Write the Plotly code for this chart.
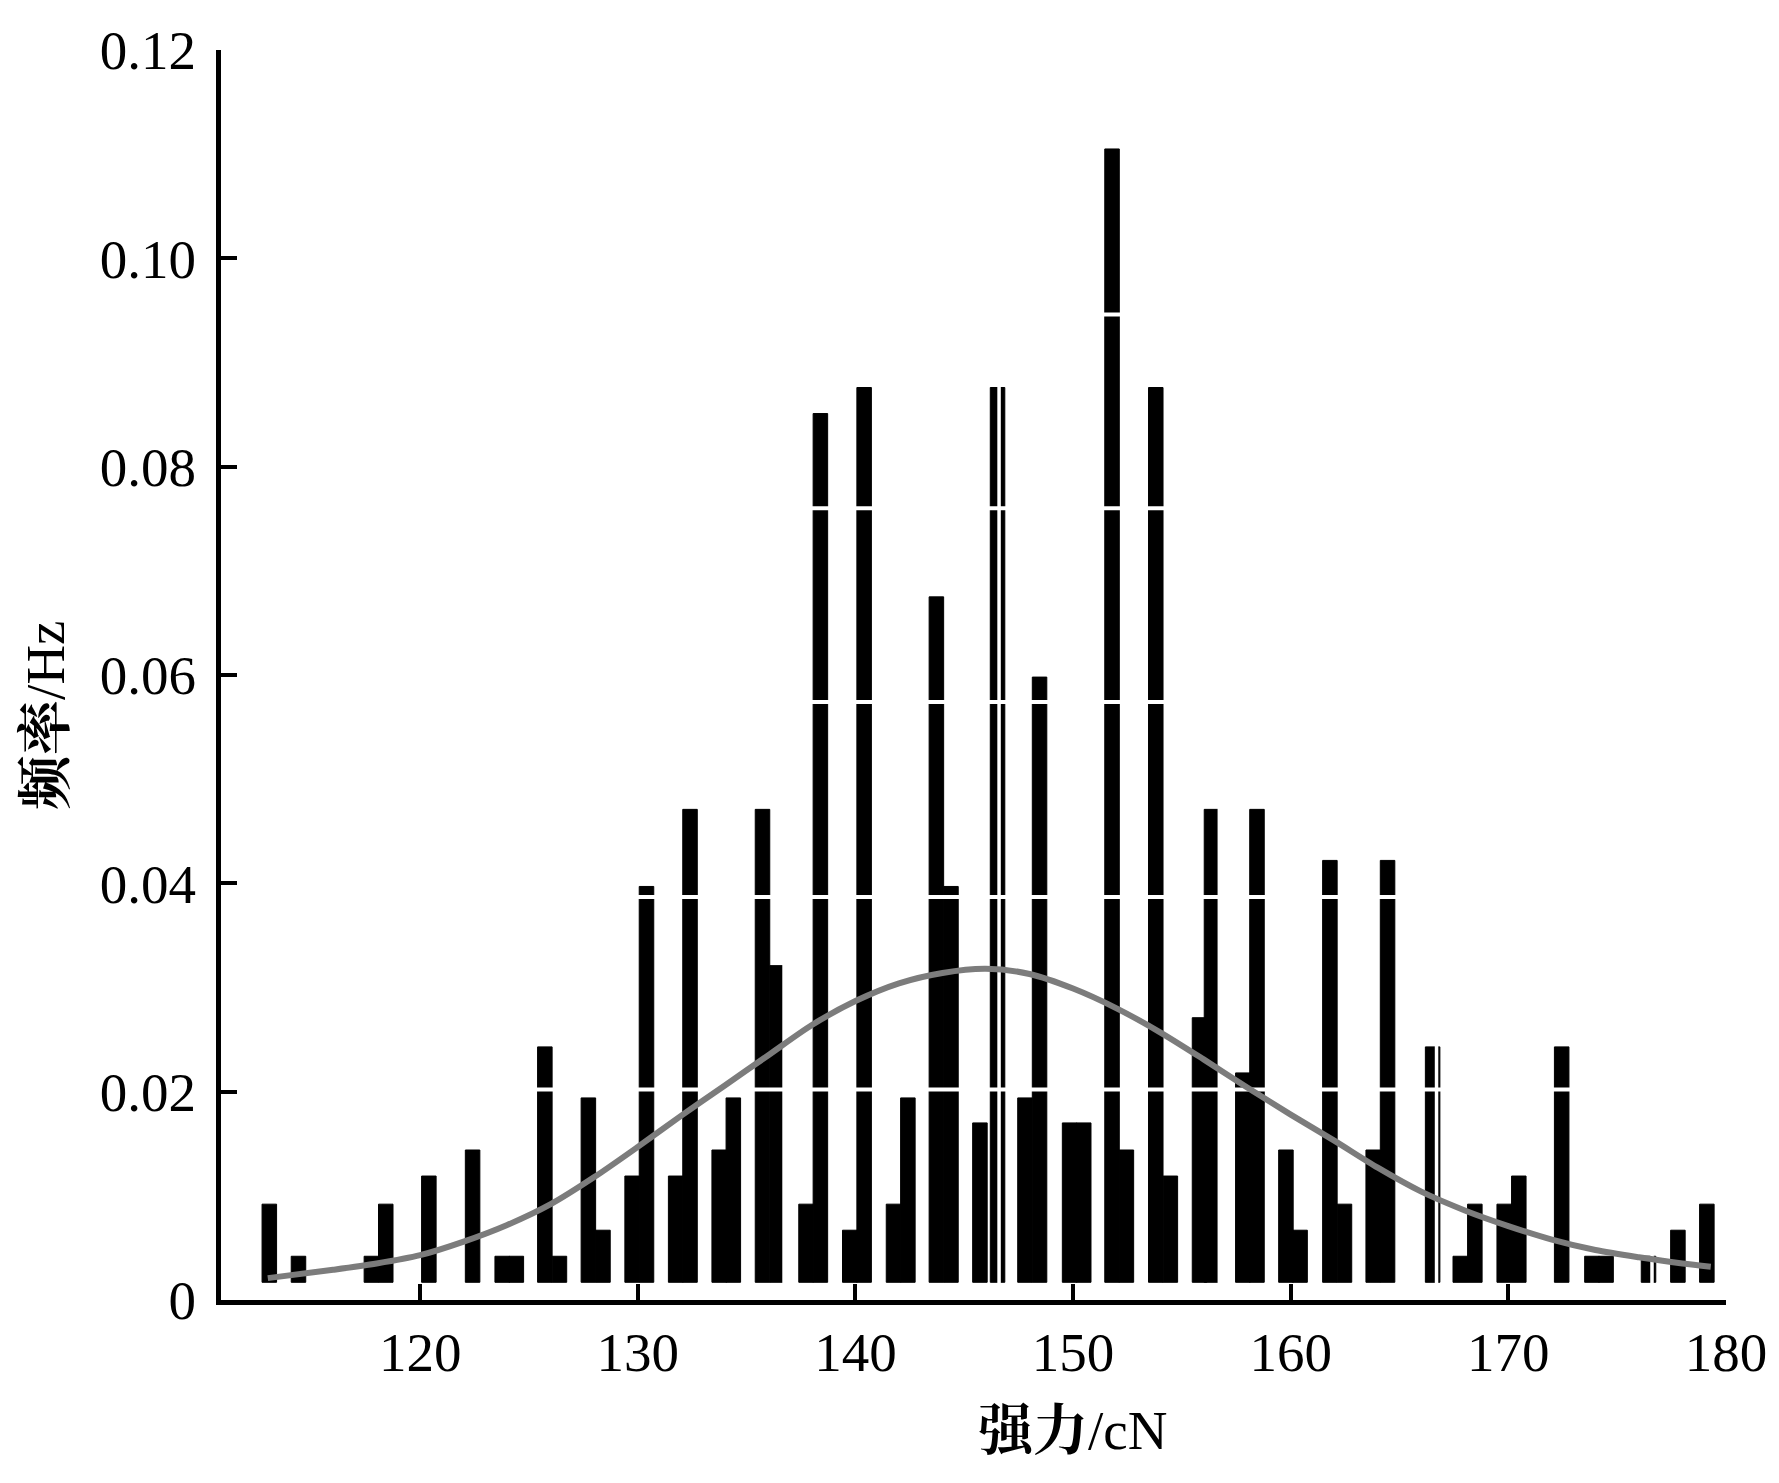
import plotly.graph_objects as go

# histogram: bin centre (cN) and top of each bar (frequency)
strength_cN = [
    113.07, 114.41, 117.76, 118.42, 120.40, 122.41, 123.77, 124.42, 125.73, 126.40,
    127.73, 128.40, 129.74, 130.40, 131.74, 132.40, 133.74, 134.39, 135.73, 136.40,
    137.73, 138.39, 139.74, 140.40, 141.75, 142.41, 143.72, 144.39, 145.72, 146.53,
    147.79, 148.46, 149.84, 150.49, 151.79, 152.45, 153.80, 154.47, 155.81, 156.36,
    157.80, 158.45, 159.78, 160.43, 161.80, 162.47, 163.79, 164.45, 166.52, 167.79,
    168.46, 169.81, 170.48, 172.45, 173.84, 174.49, 176.44, 177.79, 179.12,
]
freq_top = [
    0.0092, 0.0042, 0.0042, 0.0092, 0.0119, 0.0144, 0.0042, 0.0042, 0.0243, 0.0042,
    0.0194, 0.0067, 0.0119, 0.0397, 0.0119, 0.0471, 0.0144, 0.0194, 0.0471, 0.0321,
    0.0092, 0.0851, 0.0067, 0.0876, 0.0092, 0.0194, 0.0675, 0.0397, 0.0170, 0.0876,
    0.0194, 0.0598, 0.0170, 0.0170, 0.1105, 0.0144, 0.0876, 0.0119, 0.0271, 0.0471,
    0.0218, 0.0471, 0.0144, 0.0067, 0.0422, 0.0092, 0.0144, 0.0422, 0.0243, 0.0042,
    0.0092, 0.0092, 0.0119, 0.0243, 0.0042, 0.0042, 0.0042, 0.0067, 0.0092,
]
BAR_BASE = 0.0017   # bars stand on this level, a little above the axis
BAR_WIDTH = 0.667

# fitted distribution curve, read point by point
fit_x = [113.0, 116.0, 118.0, 120.0, 122.0, 124.0, 126.0, 128.0, 130.0, 132.0,
         134.0, 136.0, 138.0, 140.0, 142.0, 144.0, 146.0, 148.0, 150.0, 152.0,
         154.0, 156.0, 158.0, 160.0, 162.0, 164.0, 166.0, 168.0, 170.0, 172.0,
         174.0, 176.0, 178.0, 179.3]
fit_y = [0.0021, 0.0029, 0.0035, 0.0043, 0.0056, 0.0072, 0.0092, 0.0118, 0.0147, 0.0177,
         0.0206, 0.0235, 0.0264, 0.0287, 0.0304, 0.0314, 0.0318, 0.0313, 0.0299, 0.0280,
         0.0257, 0.0231, 0.0204, 0.0178, 0.0153, 0.0127, 0.0104, 0.0086, 0.0071, 0.0058,
         0.0048, 0.0041, 0.0035, 0.0032]

# thin white lines that cut through the bars in the original figure
cut_y = [0.0202, 0.0387, 0.0574, 0.0760, 0.0946]
cut_x = [136.72, 146.6, 156.72, 166.7, 176.6]

x_ticks = [120, 130, 140, 150, 160, 170, 180]
y_ticks = [0, 0.02, 0.04, 0.06, 0.08, 0.10, 0.12]
y_tick_text = ["0", "0.02", "0.04", "0.06", "0.08", "0.10", "0.12"]

X_RANGE = [110.85, 180]
Y_RANGE = [0, 0.12]

LATIN = "Liberation Serif"
MIXED = "Liberation Serif, Noto Serif CJK SC, Noto Sans CJK SC"

fig = go.Figure()

# a thin black outline closes the hairline seams between neighbouring bins
fig.add_trace(
    go.Bar(
        x=strength_cN,
        y=[t - BAR_BASE for t in freq_top],
        base=BAR_BASE,
        width=BAR_WIDTH,
        marker={"color": "#000000", "line": {"width": 1, "color": "#000000"}},
        hoverinfo="skip",
    )
)

hx, hy = [], []
for v in cut_y:
    hx += [X_RANGE[0], X_RANGE[1], None]
    hy += [v, v, None]
fig.add_trace(
    go.Scatter(x=hx, y=hy, mode="lines", line={"color": "#ffffff", "width": 4}, hoverinfo="skip")
)

vx, vy = [], []
for v in cut_x:
    vx += [v, v, None]
    vy += [Y_RANGE[0], Y_RANGE[1], None]
fig.add_trace(
    go.Scatter(x=vx, y=vy, mode="lines", line={"color": "#ffffff", "width": 3.5}, hoverinfo="skip")
)

fig.add_trace(
    go.Scatter(
        x=fit_x,
        y=fit_y,
        mode="lines",
        line={"color": "#7c7c7c", "width": 6, "shape": "spline", "smoothing": 0.8},
        hoverinfo="skip",
    )
)

axis_style = dict(
    showgrid=False,
    zeroline=False,
    showline=True,
    linewidth=5,
    linecolor="#000000",
    ticks="inside",
    ticklen=16,
    tickwidth=4,
    tickcolor="#000000",
    tickfont={"family": LATIN, "size": 55, "color": "#000000"},
)

fig.update_xaxes(range=X_RANGE, tickvals=x_ticks, **axis_style)
fig.update_yaxes(
    range=Y_RANGE, tickvals=y_ticks, ticktext=y_tick_text, ticklabelstandoff=9, **axis_style
)

# the page adds an 8px body margin, so the margins below are shifted by that much
fig.update_layout(
    width=1779,
    height=1483,
    margin={"l": 213, "r": 61, "t": 42, "b": 191},
    plot_bgcolor="#ffffff",
    paper_bgcolor="#ffffff",
    showlegend=False,
    annotations=[
        dict(
            text="<b>强力</b>/cN",
            xref="paper", yref="paper",
            x=0.566, y=-0.104,
            xanchor="center", yanchor="middle",
            showarrow=False,
            font={"family": MIXED, "size": 55, "color": "#000000"},
        ),
        dict(
            text="<b>频率</b>/Hz",
            xref="paper", yref="paper",
            x=-0.117, y=0.468,
            xanchor="center", yanchor="middle",
            textangle=-90,
            showarrow=False,
            font={"family": MIXED, "size": 55, "color": "#000000"},
        ),
    ],
)

fig.write_html("out.html")
